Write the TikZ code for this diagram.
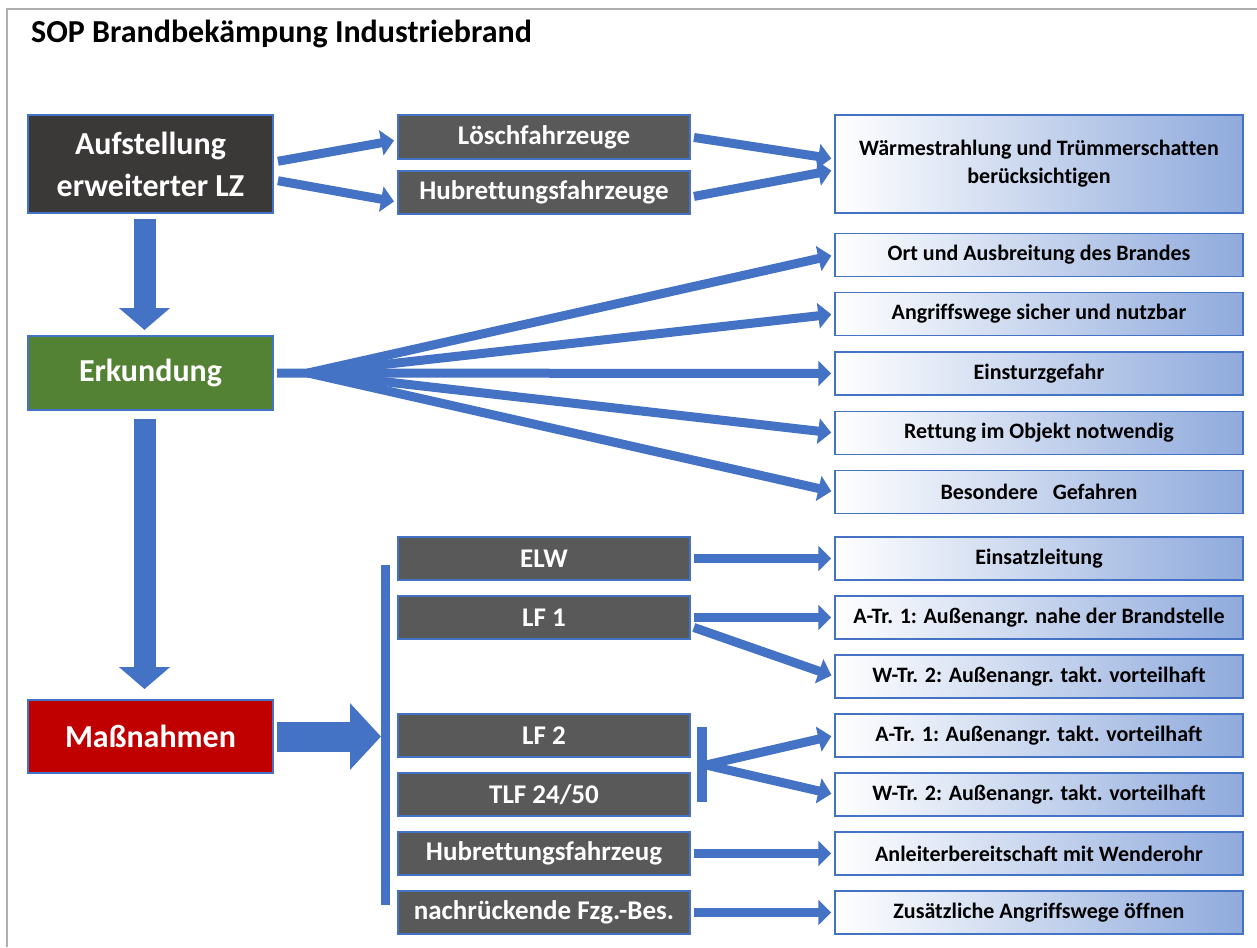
\documentclass[tikz,border=0pt]{standalone}
\usepackage{fontspec}
\setmainfont{Carlito}[Ligatures=NoCommon]
\usepackage{xcolor}
\usepackage{tikz}
\usetikzlibrary{arrows.meta, positioning}
\definecolor{sopblue}{RGB}{68,114,196}
\definecolor{darkbox}{RGB}{59,56,56}
\definecolor{graybox}{RGB}{89,89,89}
\definecolor{erkgreen}{RGB}{84,130,53}
\definecolor{massred}{RGB}{192,0,0}
\definecolor{gradblue}{RGB}{143,170,220}
\definecolor{framegray}{RGB}{175,175,175}
\tikzset{
    mainbox/.style={rectangle, draw=sopblue, line width=2pt, minimum width=245pt, text=white, font=\fontsize{32}{42}\selectfont\bfseries, align=center, inner sep=0pt},
    vehicle/.style={rectangle, draw=sopblue, line width=2pt, fill=graybox, minimum width=292pt, minimum height=43pt, text=white, font=\fontsize{27}{32}\selectfont\bfseries, inner sep=0pt},
    task/.style={rectangle, draw=sopblue, line width=1.5pt, left color=white, right color=gradblue, minimum width=408pt, minimum height=43pt, font=\fontsize{22}{28}\selectfont\bfseries, align=center, inner sep=0pt},
    flow/.style={draw=sopblue, line width=9pt, -{Triangle[length=13pt, width=25pt]}},
    blockarrow/.style={draw=sopblue, line width=22pt, -{Triangle[length=22pt, width=50pt]}},
    bar/.style={draw=sopblue, line width=9pt}
}
\begin{document}
\begin{tikzpicture}[x=1pt, y=-1pt]
    \useasboundingbox (0,0) rectangle (1257,947);
    \draw[framegray, line width=1.2pt] (7,947) -- (7,9) -- (1257,9);

    % Title
    \node[anchor=west, inner sep=0pt, font=\fontsize{32}{36}\selectfont\bfseries] (title) at (31,34) {SOP Brandbekämpung Industriebrand};

    % Main steps
    \node[mainbox, fill=darkbox, minimum height=98pt] (aufst) at (150.5,164) {Aufstellung\\erweiterter LZ};
    \node[mainbox, fill=erkgreen, minimum height=74pt] (erk) at (150.5,373) {Erkundung};
    \node[mainbox, fill=massred, minimum height=73pt] (mass) at (150.5,736.5) {Maßnahmen};

    % Vehicles
    \node[vehicle] (loesch) at (544,137) {Löschfahrzeuge};
    \node[vehicle] (hub1) at (544,192) {Hubrettungsfahrzeuge};
    \node[vehicle] (elw) at (544,558.5) {ELW};
    \node[vehicle] (lf1) at (544,617.5) {LF 1};
    \node[vehicle] (lf2) at (544,735.5) {LF 2};
    \node[vehicle] (tlf) at (544,794.5) {TLF 24/50};
    \node[vehicle] (hub2) at (544,853.5) {Hubrettungsfahrzeug};
    \node[vehicle] (nach) at (544,912.5) {nachrückende Fzg.-Bes.};

    % Tasks
    \node[task, minimum height=98pt] (waerme) at (1039,164) {Wärmestrahlung und Trümmerschatten\\berücksichtigen};
    \node[task] (ort) at (1039,255) {Ort und Ausbreitung des Brandes};
    \node[task] (angr) at (1039,314) {Angriffswege sicher und nutzbar};
    \node[task] (einst) at (1039,373.5) {Einsturzgefahr};
    \node[task] (rett) at (1039,433) {Rettung im Objekt notwendig};
    \node[task] (bes) at (1039,492) {Besondere\ \ \ Gefahren};
    \node[task] (einsatz) at (1039,558.5) {Einsatzleitung};
    \node[task] (atr1) at (1039,617.5) {A-Tr. 1: Außenangr. nahe der Brandstelle};
    \node[task] (wtr1) at (1039,676.5) {W-Tr. 2: Außenangr. takt. vorteilhaft};
    \node[task] (atr2) at (1039,735.5) {A-Tr. 1: Außenangr. takt. vorteilhaft};
    \node[task] (wtr2) at (1039,794.5) {W-Tr. 2: Außenangr. takt. vorteilhaft};
    \node[task] (anl) at (1039,853.5) {Anleiterbereitschaft mit Wenderohr};
    \node[task] (zus) at (1039,912.5) {Zusätzliche Angriffswege öffnen};

    % Bars
    \coordinate (bartop) at (385,565);
    \coordinate (barbot) at (385,905);
    \coordinate (lftop) at (702,727);
    \coordinate (lfbot) at (702,802);
    \coordinate (lfmid) at (706,765);
    \coordinate (erkfan) at (308,373);
    \draw[bar] (bartop) -- (barbot);
    \draw[bar, line width=10pt] (lftop) -- (lfbot);

    % Connections
    \draw[blockarrow, shorten <=5pt, shorten >=5pt] ([xshift=-6pt]aufst.south) -- ([xshift=-6pt]erk.north);
    \draw[blockarrow, shorten <=8pt, shorten >=10pt] ([xshift=-6pt]erk.south) -- ([xshift=-6pt]mass.north);
    \draw[blockarrow, line width=30pt, -{Triangle[length=31pt, width=65pt]}, shorten <=3pt, shorten >=4pt] (mass.east) -- (mass.east -| bartop);
    \draw[flow, shorten <=4pt, shorten >=3pt] ([yshift=2pt]aufst.east) -- ([yshift=-3pt]loesch.west);
    \draw[flow, shorten <=4pt, shorten >=3pt] ([yshift=-16pt]aufst.east) -- ([yshift=-10pt]hub1.west);
    \draw[flow, shorten <=3pt, shorten >=3pt] (loesch.east) -- ([yshift=5pt]waerme.west);
    \draw[flow, shorten <=3pt, shorten >=3pt] ([yshift=-5pt]hub1.east) -- ([yshift=-6pt]waerme.west);
    \draw[flow, shorten <=3pt, shorten >=3pt] (erk.east) -- (einst.west);
    \draw[flow, shorten >=3pt] (erkfan) -- (ort.west);
    \draw[flow, shorten >=3pt] (erkfan) -- (angr.west);
    \draw[flow, shorten >=3pt] (erkfan) -- (rett.west);
    \draw[flow, shorten >=3pt] (erkfan) -- (bes.west);
    \draw[flow, shorten <=3pt, shorten >=3pt] (elw.east) -- (einsatz.west);
    \draw[flow, shorten <=3pt, shorten >=3pt] (lf1.east) -- (atr1.west);
    \draw[flow, shorten <=3pt, shorten >=3pt] ([yshift=-9pt]lf1.east) -- (wtr1.west);
    \draw[flow, shorten >=3pt] (lfmid) -- (atr2.west);
    \draw[flow, shorten >=3pt] (lfmid) -- (wtr2.west);
    \draw[flow, shorten <=3pt, shorten >=3pt] (hub2.east) -- (anl.west);
    \draw[flow, shorten <=3pt, shorten >=3pt] (nach.east) -- (zus.west);
\end{tikzpicture}
\end{document}
